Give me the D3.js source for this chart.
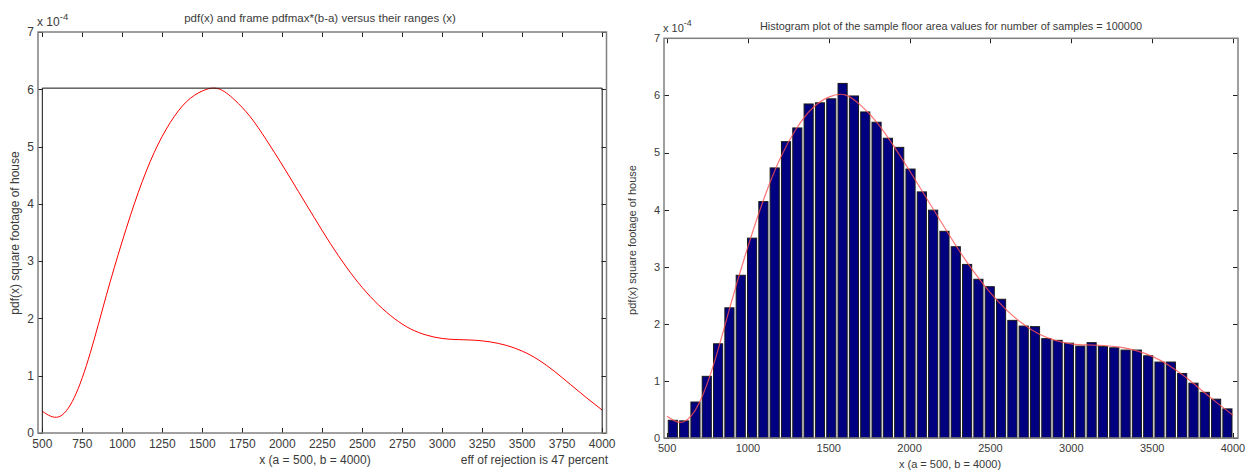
<!DOCTYPE html>
<html><head><meta charset="utf-8">
<script src="https://cdn.jsdelivr.net/npm/d3@7"></script>
<style>
body{margin:0;background:#fff;}
svg{display:block;font-family:"Liberation Sans",Arial,sans-serif;}
</style></head>
<body>
<svg id="chart" width="1254" height="473"></svg>
<script>
// ---------- data ----------
const leftTitle = "pdf(x) and frame pdfmax*(b-a) versus their ranges (x)";
const rightTitle = "Histogram plot of the sample floor area values for number of samples = 100000";
const yLabel = "pdf(x) square footage of house";
const xLabel = "x (a = 500, b = 4000)";
const effLabel = "eff of rejection is 47 percent";

// pdf curve (units of 1e-4), read every 100 from 500 to 4000
const pdfX = [500, 600, 700, 800, 900, 1000, 1100, 1200, 1300, 1400, 1500, 1600, 1700, 1800, 1900, 2000, 2100, 2200, 2300, 2400, 2500, 2600, 2700, 2800, 2900, 3000, 3100, 3200, 3300, 3400, 3500, 3600, 3700, 3800, 3900, 4000];
const pdfY = [0.38, 0.28, 0.62, 1.40, 2.40, 3.35, 4.20, 4.90, 5.42, 5.78, 5.97, 6.01, 5.82, 5.52, 5.12, 4.68, 4.22, 3.76, 3.31, 2.90, 2.54, 2.24, 2.00, 1.82, 1.71, 1.65, 1.63, 1.62, 1.59, 1.53, 1.43, 1.28, 1.08, 0.85, 0.62, 0.40];

// frame pdfmax over [a,b]
const frameA = 500, frameB = 4000, frameMax = 6.02;

// histogram (50 bins of width 70 from 500 to 4000), values in 1e-4
const histStart = 500, histWidth = 70;
const histValues = [0.31, 0.30, 0.63, 1.08, 1.65, 2.28, 2.85,
  3.50, 4.14, 4.73, 5.19, 5.43, 5.85, 5.87, 5.94, 6.21, 5.99, 5.71, 5.53, 5.25, 5.09, 4.71, 4.31, 3.99, 3.62, 3.35,
  3.04, 2.78, 2.65, 2.43, 2.06, 1.96, 1.95, 1.74, 1.71, 1.66, 1.61, 1.67, 1.60, 1.58, 1.54, 1.54, 1.44, 1.33, 1.33, 1.13, 0.96, 0.80, 0.68, 0.51];

const leftXTicks = [500, 750, 1000, 1250, 1500, 1750, 2000, 2250, 2500, 2750, 3000, 3250, 3500, 3750, 4000];
const rightXTicks = [500, 1000, 1500, 2000, 2500, 3000, 3500, 4000];
const yTicks = [0, 1, 2, 3, 4, 5, 6, 7];

// ---------- drawing ----------
const svg = d3.select("#chart");
const textColor = "#3a3a3a";
const boxColor = "#808080";

function axesBox(g, x, y, xt, opts) {
  const [x0, x1] = x.range();
  const [y0, y1] = y.range(); // y0 bottom, y1 top
  const tl = opts.tickLen;
  const tk = g.append("g").attr("stroke", "#222").attr("stroke-width", 1);
  xt.forEach(v => {
    const px = Math.round(x(v)) + 0.5;
    tk.append("line").attr("x1", px).attr("x2", px).attr("y1", y0).attr("y2", y0 - tl);
    tk.append("line").attr("x1", px).attr("x2", px).attr("y1", y1).attr("y2", y1 + tl);
  });
  yTicks.forEach(v => {
    const py = Math.round(y(v)) + 0.5;
    tk.append("line").attr("x1", x0).attr("x2", x0 + tl).attr("y1", py).attr("y2", py);
    tk.append("line").attr("x1", x1).attr("x2", x1 - tl).attr("y1", py).attr("y2", py);
  });
  g.append("rect").attr("x", x0).attr("y", y1).attr("width", x1 - x0).attr("height", y0 - y1)
    .attr("fill", "none").attr("stroke", boxColor).attr("stroke-width", 1.5);
  const fs = opts.fontSize;
  xt.forEach(v => {
    g.append("text").attr("x", x(v)).attr("y", y0 + opts.xLabOff).attr("text-anchor", "middle")
      .attr("font-size", fs).attr("fill", textColor).text(v);
  });
  yTicks.forEach(v => {
    g.append("text").attr("x", x0 - 4).attr("y", y(v) + fs * 0.36).attr("text-anchor", "end")
      .attr("font-size", fs).attr("fill", textColor).text(v);
  });
  const ex = g.append("text").attr("x", x0 - 1).attr("y", y1 - 6).attr("font-size", fs).attr("fill", textColor);
  ex.append("tspan").text("x 10");
  ex.append("tspan").attr("dy", -6).attr("font-size", fs * 0.8).text("-4");
}

const line = (x, y) => d3.line().x((d, i) => x(pdfX[i])).y(d => y(d)).curve(d3.curveNatural);

// ----- left chart -----
const xL = d3.scaleLinear().domain([473, 4027]).range([38, 606.5]);
const yL = d3.scaleLinear().domain([0, 7]).range([433, 32]);
const gL = svg.append("g");

gL.append("path").datum(pdfY).attr("d", line(xL, yL)).attr("fill", "none").attr("stroke", "#ff0000").attr("stroke-width", 1);
gL.append("path")
  .attr("d", d3.line()([[xL(frameA), yL(0)], [xL(frameA), yL(frameMax)], [xL(frameB), yL(frameMax)], [xL(frameB), yL(0)]]))
  .attr("fill", "none").attr("stroke", "#111").attr("stroke-width", 1);
axesBox(gL, xL, yL, leftXTicks, {tickLen: 5, fontSize: 12, xLabOff: 15});

gL.append("text").attr("x", 320).attr("y", 22).attr("text-anchor", "middle").attr("font-size", 11.5).attr("fill", textColor).text(leftTitle);
gL.append("text").attr("x", 315).attr("y", 464).attr("text-anchor", "middle").attr("font-size", 12).attr("fill", textColor).text(xLabel);
gL.append("text").attr("x", 608).attr("y", 464).attr("text-anchor", "end").attr("font-size", 12).attr("fill", textColor).text(effLabel);
gL.append("text").attr("transform", "translate(19,233) rotate(-90)").attr("text-anchor", "middle")
  .attr("font-size", 12).attr("fill", textColor).text(yLabel);

// ----- right chart -----
const xR = d3.scaleLinear().domain([481, 4031]).range([664, 1238]);
const yR = d3.scaleLinear().domain([0, 7]).range([438, 38.3]);
const gR = svg.append("g");

gR.selectAll("rect.bar").data(histValues).enter().append("rect").attr("class", "bar")
  .attr("x", (d, i) => xR(histStart + i * histWidth) + 1.2)
  .attr("width", (d, i) => xR(histStart + (i + 1) * histWidth) - xR(histStart + i * histWidth) - 2.2)
  .attr("y", d => yR(d))
  .attr("height", d => yR(0) - yR(d))
  .attr("fill", "#000080").attr("stroke", "#1a1a1a").attr("stroke-width", 1);

gR.append("path").datum(pdfY).attr("d", line(xR, yR)).attr("fill", "none").attr("stroke", "#ff5050").attr("stroke-opacity", 0.8).attr("stroke-width", 1.2);
axesBox(gR, xR, yR, rightXTicks, {tickLen: 5, fontSize: 11, xLabOff: 14});

gR.append("text").attr("x", 951).attr("y", 30).attr("text-anchor", "middle").attr("font-size", 10.5).attr("fill", textColor)
  .attr("textLength", 382).attr("lengthAdjust", "spacingAndGlyphs").text(rightTitle);
gR.append("text").attr("x", 950).attr("y", 468).attr("text-anchor", "middle").attr("font-size", 11).attr("fill", textColor).text(xLabel);
gR.append("text").attr("transform", "translate(636,240) rotate(-90)").attr("text-anchor", "middle")
  .attr("font-size", 11).attr("fill", textColor).text(yLabel);
</script>
</body></html>
